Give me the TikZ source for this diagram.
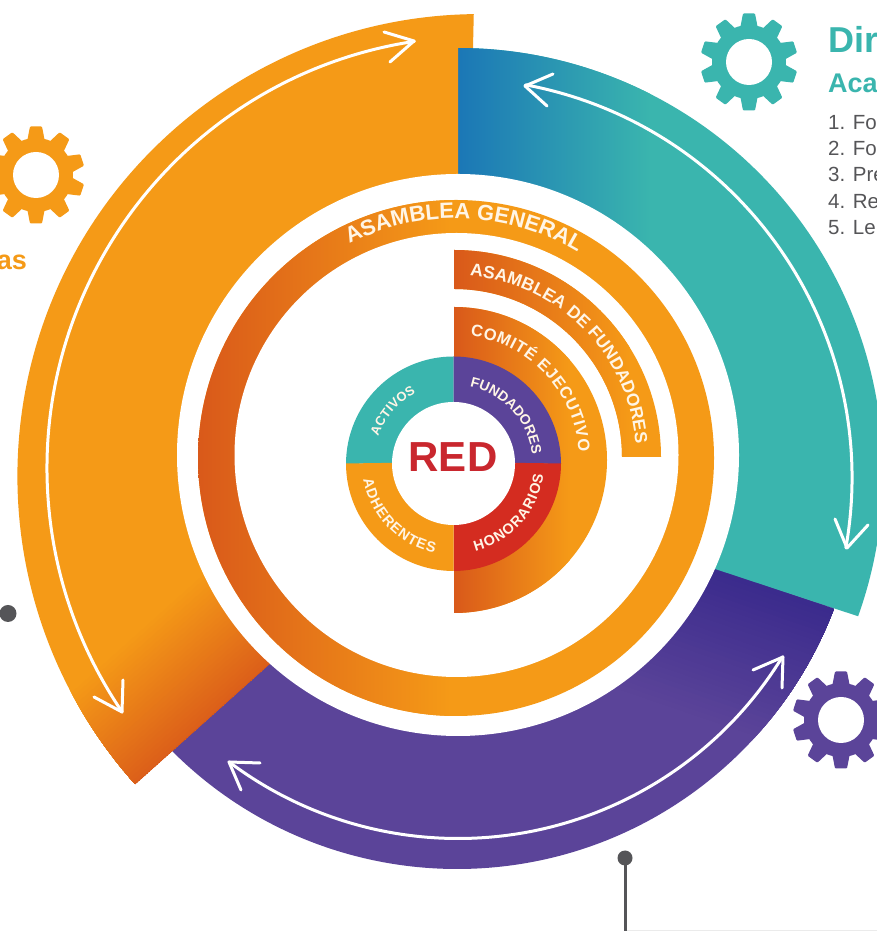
\documentclass[tikz,border=0pt]{standalone}
\usepackage{fontspec}
\setmainfont{Liberation Sans}
\usetikzlibrary{decorations.text}
\definecolor{orgC}{HTML}{F59A17}
\definecolor{drkC}{HTML}{D9591A}
\definecolor{tealC}{HTML}{3AB5AE}
\definecolor{blueC}{HTML}{1B77B6}
\definecolor{purC}{HTML}{5B4499}
\definecolor{dpurC}{HTML}{3A2A8C}
\definecolor{redC}{HTML}{D42C20}
\definecolor{redT}{HTML}{C9272E}
\definecolor{txtC}{HTML}{FFF5E6}
\definecolor{gryC}{HTML}{555558}
\tikzset{
  whitearc/.style={draw=white,line width=3pt,line cap=round,line join=round},
  dotline/.style={draw=gryC,line width=3pt},
}
\newcommand{\gearshape}[3]{%
  \begin{scope}[shift={(#1,#2)}]
    \fill[#3] (0,0) circle[radius=37];
    \foreach \a in {0,36,...,324}{\fill[#3,rotate=\a,rounded corners=1pt] (-9,33) -- (-6,48.5) -- (6,48.5) -- (9,33) -- cycle;}
    \fill[white] (0,0) circle[radius=23];
  \end{scope}}
% centre x, centre y, radius, start, end, font size, text
\newcommand{\arctext}[7]{%
  \path[decorate,decoration={text along path,text align=fit to path,
    text={|\bfseries\fontsize{#6}{#6}\selectfont\color{txtC}|#7}}]
    ([shift={(#4:#3)}]#1,#2) arc[start angle=#4,end angle=#5,radius=#3];}
\begin{document}
\begin{tikzpicture}[x=1pt,y=1pt]
\useasboundingbox (0,0) rectangle (877,931);
\clip (0,0) rectangle (877,931);
\fill[white] (0,0) rectangle (877,931);

% purple band
\def\purplepath{([shift={(222:403)}]457,465) arc[start angle=222,end angle=342,radius=403] -- (458,476) -- cycle}
\fill[purC] \purplepath;
\begin{scope}
  \clip \purplepath;
  \begin{scope}[shift={(713,363)},rotate=-18.9]
    \foreach \j [evaluate=\j as \p using 100*\j/30] in {30,29,...,1}
      \fill[purC!\p!dpurC] (-400,0) rectangle (300,-\j*5);
  \end{scope}
\end{scope}

% teal band
\def\tealpath{(458,883) arc[start angle=90,end angle=-19.7,radius=425] -- (700,367) -- (458,476) -- cycle}
\fill[tealC] \tealpath;
\begin{scope}
  \clip \tealpath;
  \shade[left color=blueC,right color=tealC] (458,300) rectangle (650,900);
\end{scope}

% orange band
\def\orangepath{(135,147) arc[start angle=221.8,end angle=90.7,radius=462] -- (473,883) -- (458,883) -- (458,476) -- (277,274) -- cycle}
\fill[orgC] \orangepath;
\begin{scope}
  \clip \orangepath;
  \begin{scope}[shift={(135,147)},rotate=41.8]
    \foreach \j [evaluate=\j as \p using 100*\j/30] in {30,29,...,1}
      \fill[orgC!\p!drkC!92!orgC] (-60,0) rectangle (300,\j*3.8);
  \end{scope}
\end{scope}
\draw[drkC,line width=0.8pt] (135,147) -- (277,274);

% white disc inside the bands
\fill[white] (458,476) circle[radius=281];

% white arrows
\draw[whitearc] ([shift={(98.6:432)}]479,462.5) arc[start angle=98.6,end angle=214.3,radius=432];
\draw[whitearc] (384,899) -- (414,890) -- (390,869);
\draw[whitearc] (123,251) -- (122,219) -- (94,234);
\draw[whitearc] ([shift={(79.4:400)}]452,453) arc[start angle=79.4,end angle=-10.05,radius=400];
\draw[whitearc] (553,857) -- (525,845) -- (547,825);
\draw[whitearc] (835,412) -- (847,383) -- (868,406);
\draw[whitearc] ([shift={(233:380.5)}]458,473) arc[start angle=233,end angle=328.5,radius=380.5];
\draw[whitearc] (260,168) -- (229,169) -- (241,141);
\draw[whitearc] (753,261) -- (783,274) -- (782,243);

% Asamblea general ring
\fill[orgC] (456,473) circle[radius=258];
\begin{scope}
  \clip (456,473) circle[radius=258];
  \shade[left color=drkC,right color=orgC] (198,200) rectangle (450,740);
\end{scope}
\fill[white] (456.5,476) circle[radius=222];

% Asamblea de fundadores
\def\fundpath{(454,681) arc[start angle=90,end angle=0,radius=207] -- (622,474) arc[start angle=0,end angle=90,radius=168] -- cycle}
\fill[orgC] \fundpath;
\begin{scope}
  \clip \fundpath;
  \shade[left color=drkC,right color=orgC] (454,460) rectangle (630,690);
\end{scope}

% Comite ejecutivo
\def\compath{(454,624) arc[start angle=90,end angle=-90,radius=153] -- cycle}
\fill[orgC] \compath;
\begin{scope}
  \clip \compath;
  \shade[left color=drkC,right color=orgC] (454,310) rectangle (570,630);
\end{scope}

% inner quadrants
\fill[tealC] (453.5,469) -- (453.5,574.5) arc[start angle=90,end angle=180,radius=107.5] -- cycle;
\fill[purC] (453.5,469) -- (453.5,574.5) arc[start angle=90,end angle=0,radius=107.5] -- cycle;
\fill[redC] (453.5,469) -- (561,467.5) arc[start angle=0,end angle=-90,radius=107.5] -- cycle;
\fill[orgC] (453.5,469) -- (453.5,360) arc[start angle=-90,end angle=-180,radius=107.5] -- cycle;
\fill[white] (453.5,467.5) circle[radius=61.5];

% arc labels
\arctext{456}{476}{236.5}{116.8}{59}{22}{ASAMBLEA GENERAL}
\arctext{454}{474}{182}{85}{4.5}{17.5}{ASAMBLEA DE FUNDADORES}
\arctext{454}{471}{125}{82.5}{3.7}{16.5}{COMITÉ EJECUTIVO}
\arctext{453.5}{467.5}{79}{78}{7}{14}{FUNDADORES}
\arctext{453.5}{467.5}{90.5}{-76}{-7}{14.5}{HONORARIOS}
\arctext{453.5}{467.5}{80}{160}{118}{13}{ACTIVOS}
\arctext{453.5}{467.5}{91.5}{190}{258}{14.5}{ADHERENTES}

\node[anchor=center,inner sep=0pt,text=redT,font=\bfseries\fontsize{42}{42}\selectfont] (red) at (453,474) {RED};

% gears
\gearshape{749}{869}{tealC}
\gearshape{36}{756}{orgC}
\gearshape{841}{211}{purC}

% right hand text
\node[anchor=base west,inner sep=0pt,text=tealC,font=\bfseries\fontsize{36}{36}\selectfont] (dir) at (828,878) {Dir};
\node[anchor=base west,inner sep=0pt,text=tealC,font=\bfseries\fontsize{27}{27}\selectfont] (aca) at (828,838) {Aca};
\node[anchor=base west,inner sep=0pt,text=gryC,font=\fontsize{20.5}{20.5}\selectfont] (l1) at (828,801) {1. Fo};
\node[anchor=base west,inner sep=0pt,text=gryC,font=\fontsize{20.5}{20.5}\selectfont] (l2) at (828,775) {2. Fo};
\node[anchor=base west,inner sep=0pt,text=gryC,font=\fontsize{20.5}{20.5}\selectfont] (l3) at (828,749) {3. Pre};
\node[anchor=base west,inner sep=0pt,text=gryC,font=\fontsize{20.5}{20.5}\selectfont] (l4) at (828,722) {4. Re};
\node[anchor=base west,inner sep=0pt,text=gryC,font=\fontsize{20.5}{20.5}\selectfont] (l5) at (828,696) {5. Le};
\node[anchor=base east,inner sep=0pt,text=orgC,font=\bfseries\fontsize{27}{27}\selectfont] (las) at (27,661) {as};

% dots and leader lines
\coordinate (dotA) at (8,317.5);
\coordinate (dotB) at (625,73);
\coordinate (footB) at (625,0);
\coordinate (footC) at (877,0.7);
\fill[gryC] (dotA) circle[radius=8.5];
\draw[black!8,line width=1pt] (625,0.7) -- (footC);
\draw[dotline] (dotB) -- (footB);
\fill[gryC] (dotB) circle[radius=7.5];
\end{tikzpicture}
\end{document}
